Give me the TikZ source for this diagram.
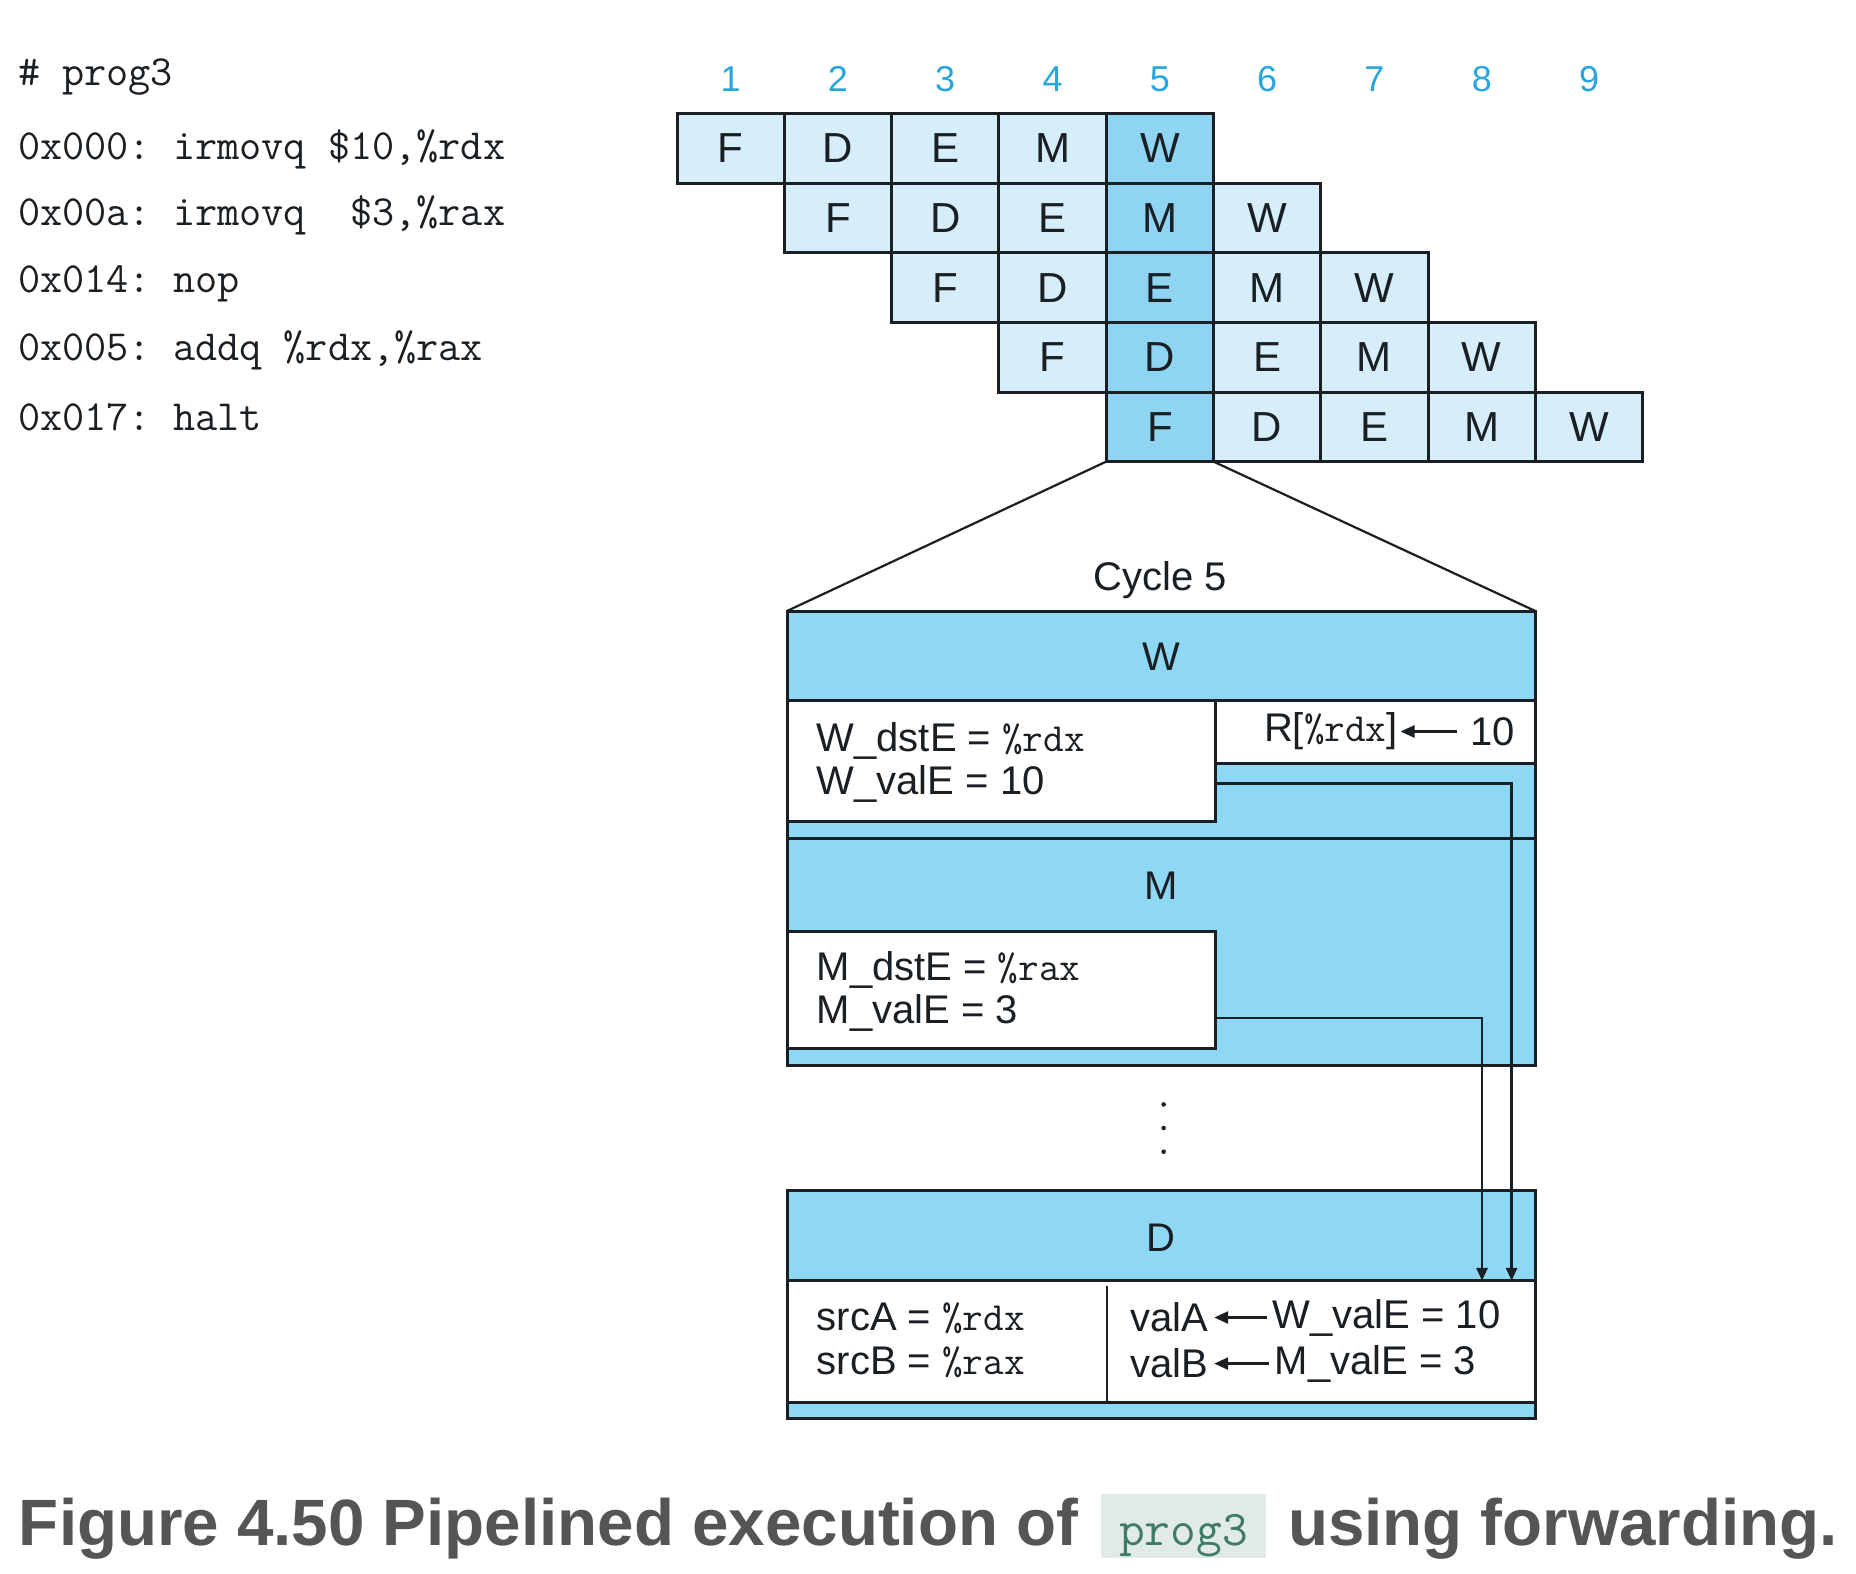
\documentclass[tikz,border=0pt]{standalone}
\usepackage{fontspec}
\setmainfont{Liberation Sans}
\usetikzlibrary{arrows.meta}
\definecolor{lightcell}{HTML}{D6EEFA}
\definecolor{midcell}{HTML}{8FD5F3}
\definecolor{stageblue}{HTML}{8FD8F5}
\definecolor{numcol}{HTML}{2AA6DE}
\definecolor{linecol}{HTML}{1A1F24}
\definecolor{capgray}{HTML}{555555}
\definecolor{codegreen}{HTML}{3F7B68}
\definecolor{codebg}{HTML}{E2EAE8}
\begin{document}
\begin{tikzpicture}[x=1pt,y=-1pt,
  every node/.style={inner sep=0pt, outer sep=0pt},
  cellbox/.style={draw=linecol, line width=3pt, minimum width=107.3pt, minimum height=69.6pt,
    font=\fontsize{42}{46}\selectfont, text=linecol},
  numlbl/.style={font=\fontsize{36}{40}\selectfont, text=numcol},
  prog/.style={font=\ttfamily\addfontfeature{FakeBold=1.2}\fontsize{43}{46}\selectfont, anchor=west, text=linecol},
  stagebox/.style={draw=linecol, line width=3pt, fill=stageblue, anchor=north west},
  whitebox/.style={draw=linecol, line width=3pt, fill=white, anchor=north west},
  lbl/.style={font=\fontsize{40}{43}\selectfont, text=linecol},
  txt/.style={font=\fontsize{40}{43.5}\selectfont, text=linecol, align=left, anchor=west},
  wire/.style={draw=linecol, line width=2.8pt, -{Triangle[length=13pt,width=11pt]}},
  larrow/.style={draw=linecol, line width=2.6pt, -{Triangle[length=14pt,width=12pt]}},
  fan/.style={draw=linecol, line width=2.2pt}
]
\useasboundingbox (0,0) rectangle (1856,1574);
\fill[white] (0,0) rectangle (1856,1574);

% program listing
\node[prog] (p0) at (18,77) {\#~prog3};
\node[prog] (p1) at (18,149) {0x000:~irmovq~\$10,\%rdx};
\node[prog] (p2) at (18,215) {0x00a:~irmovq~~\$3,\%rax};
\node[prog] (p3) at (18,284) {0x014:~nop};
\node[prog] (p4) at (18,350) {0x005:~addq~\%rdx,\%rax};
\node[prog] (p5) at (18,417) {0x017:~halt};

% cycle numbers
\foreach \n in {1,...,9} {
  \node[numlbl] (n\n) at ({730.65+107.3*(\n-1)},79) {\n};
}

% pipeline cells
\foreach \r in {0,...,4} {
  \foreach \L [count=\k from 0] in {F,D,E,M,W} {
    \pgfmathtruncatemacro\c{\r+\k}
    \ifnum\c=4 \def\cc{midcell}\else\def\cc{lightcell}\fi
    \node[cellbox, fill=\cc] (c\r-\c) at ({730.65+107.3*\c},{148.4+69.6*\r}) {\L};
  }
}

% stages
\node[stagebox, minimum width=748.3pt, minimum height=227pt] (Wst) at (787,611) {};
\node[stagebox, minimum width=748.3pt, minimum height=227pt] (Mst) at (787,838) {};
\node[stagebox, minimum width=748.3pt, minimum height=227.2pt] (Dst) at (787,1190.8) {};

% fan lines
\draw[fan] (c4-4.south west) -- (Wst.north west);
\draw[fan] (c4-4.south east) -- (Wst.north east);
\node[lbl] (cyc) at (1160,580) {Cycle 5};

% headers
\node[lbl] (hW) at (1161,657) {W};
\node[lbl] (hM) at (1161,885.4) {M};
\node[lbl] (hD) at (1161,1238.2) {D};

% W stage contents
\node[whitebox, minimum width=428.7pt, minimum height=120.8pt] (Wbox) at (787,700.7) {};
\node[whitebox, minimum width=319.6pt, minimum height=62.8pt] (Rbox) at (1215.7,700.7) {};
\node[txt] (Wtxt) at (816.7,762.3) {W\_dstE = {\ttfamily\%rdx}\\W\_valE = 10};
\node[lbl, anchor=west] (Rl) at (1264,731.5) {R[{\ttfamily\%rdx}]};
\node[lbl, anchor=east] (Rr) at (1515,731.5) {10};
\draw[larrow] ([xshift=-14pt]Rr.west) -- ([xshift=3pt]Rl.east);

% M stage contents
\node[whitebox, minimum width=428.7pt, minimum height=117.2pt] (Mbox) at (787,931.6) {};
\node[txt] (Mtxt) at (816.7,991.3) {M\_dstE = {\ttfamily\%rax}\\M\_valE = 3};

% dots
\fill[linecol] (1163.6,1104.4) circle (2.3pt);
\fill[linecol] (1163.6,1128) circle (2.3pt);
\fill[linecol] (1163.6,1151.7) circle (2.3pt);

% D stage contents
\node[whitebox, minimum width=748.3pt, minimum height=121.9pt] (Dwhite) at (787,1280.8) {};
\draw[draw=linecol, line width=2pt] (1106.8,1285.6) -- (1106.8,1402.7);
\node[txt] (Dsrc) at (816.7,1340.5) {srcA = {\ttfamily\%rdx}\\srcB = {\ttfamily\%rax}};
\node[lbl, anchor=west] (vA) at (1130.4,1317.5) {valA};
\node[lbl, anchor=west] (wA) at (1272.5,1317.5) {W\_valE = 10};
\node[lbl, anchor=west] (vB) at (1130.4,1363.6) {valB};
\node[lbl, anchor=west] (mB) at (1274.8,1363.6) {M\_valE = 3};
\draw[larrow] ([xshift=-6pt]wA.west) -- ([xshift=6pt]vA.east);
\draw[larrow] ([xshift=-6pt]mB.west) -- ([xshift=6pt]vB.east);

% forwarding wires
\draw[wire] ([yshift=37.9pt]Wbox.south east) -| ([xshift=-23.7pt]Dwhite.north east);
\draw[wire] ([yshift=30.8pt]Mbox.south east) -| ([xshift=-53.3pt]Dwhite.north east);

% caption
\node[anchor=base west, font=\bfseries\fontsize{65.5}{70}\selectfont, text=capgray] (cap1) at (19,1545) {Figure 4.50 Pipelined execution of};
\node[anchor=base west, fill=codebg, text=codegreen, font=\ttfamily\fontsize{50}{54}\selectfont,
      minimum width=165pt, text height=51pt, text depth=13pt] (cap2) at (1101,1545) {prog3};
\node[anchor=base west, font=\bfseries\fontsize{65.5}{70}\selectfont, text=capgray] (cap3) at (1288,1545) {using forwarding.};
\end{tikzpicture}
\end{document}
